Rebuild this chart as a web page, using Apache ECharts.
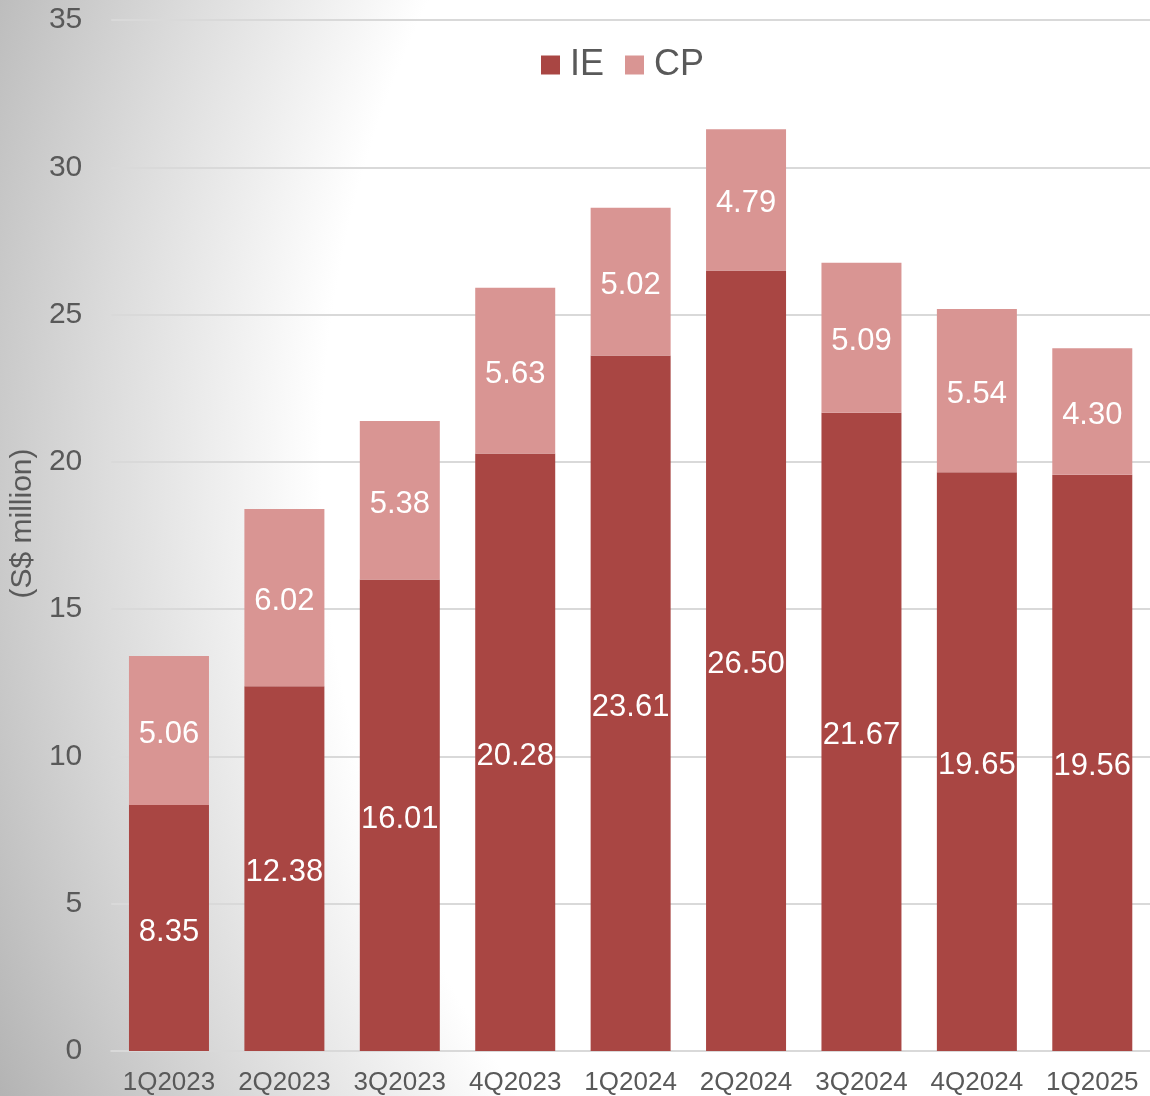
<!DOCTYPE html>
<html>
<head>
<meta charset="utf-8">
<script src="https://cdn.jsdelivr.net/npm/echarts@6/dist/echarts.min.js"></script>
<style>
html,body{margin:0;padding:0;}
#chart{width:1150px;height:1096px;}
</style>
</head>
<body>
<div id="chart"></div>
<script>
const categories = ['1Q2023','2Q2023','3Q2023','4Q2023','1Q2024','2Q2024','3Q2024','4Q2024','1Q2025'];
const ieValues = [8.35, 12.38, 16.01, 20.28, 23.61, 26.50, 21.67, 19.65, 19.56];
const cpValues = [5.06, 6.02, 5.38, 5.63, 5.02, 4.79, 5.09, 5.54, 4.30];
const seriesNames = ['IE', 'CP'];
const yTicks = {min: 0, max: 35, interval: 5};
const yAxisTitle = '(S$ million)';

const FONT = '"Liberation Sans", Arial, sans-serif';
const TEXT = '#595959';

const chart = echarts.init(document.getElementById('chart'), null, {renderer: 'canvas'});

const labelStyle = {
  show: true,
  position: 'inside',
  color: '#ffffff',
  fontSize: 31,
  fontFamily: FONT,
  offset: [0, 4],
  formatter: p => Number(p.value).toFixed(2)
};

chart.setOption({
  animation: false,
  backgroundColor: {
    type: 'radial',
    x: 1399, y: 471, r: 1540,
    global: true,
    colorStops: [
      {offset: 0, color: '#ffffff'},
      {offset: 0.70, color: '#ffffff'},
      {offset: 0.78, color: '#ebebeb'},
      {offset: 0.845, color: '#dbdbdb'},
      {offset: 0.91, color: '#cacaca'},
      {offset: 1, color: '#b2b2b2'}
    ]
  },
  textStyle: {fontFamily: FONT},
  legend: {
    data: seriesNames,
    left: 541,
    top: 47,
    padding: 0,
    itemWidth: 19,
    itemHeight: 19,
    itemGap: 21,
    icon: 'rect',
    textStyle: {fontSize: 36, color: TEXT, fontFamily: FONT, padding: [0, 0, 0, 5]}
  },
  grid: {
    left: 111,
    top: 20,
    width: 1041,
    bottom: 45,
    containLabel: false
  },
  xAxis: {
    type: 'category',
    data: categories,
    axisTick: {show: false},
    axisLine: {lineStyle: {color: '#d9d9d9', width: 2}},
    axisLabel: {color: TEXT, fontSize: 26, fontFamily: FONT, margin: 19, interval: 0}
  },
  yAxis: {
    type: 'value',
    min: yTicks.min,
    max: yTicks.max,
    interval: yTicks.interval,
    name: yAxisTitle,
    nameLocation: 'middle',
    nameGap: 71,
    nameRotate: 90,
    nameTextStyle: {color: TEXT, fontSize: 30, fontFamily: FONT, padding: [0, 0, 0, 24]},
    axisLine: {show: false},
    axisTick: {show: false},
    axisLabel: {color: TEXT, fontSize: 30, fontFamily: FONT, margin: 29},
    splitLine: {lineStyle: {color: '#d9d9d9', width: 2}}
  },
  series: [
    {
      name: seriesNames[0],
      type: 'bar',
      stack: 'total',
      data: ieValues,
      barWidth: 80,
      itemStyle: {color: '#A94643'},
      label: labelStyle
    },
    {
      name: seriesNames[1],
      type: 'bar',
      stack: 'total',
      data: cpValues,
      barWidth: 80,
      itemStyle: {color: '#D99593'},
      label: labelStyle
    }
  ]
});
</script>
</body>
</html>
